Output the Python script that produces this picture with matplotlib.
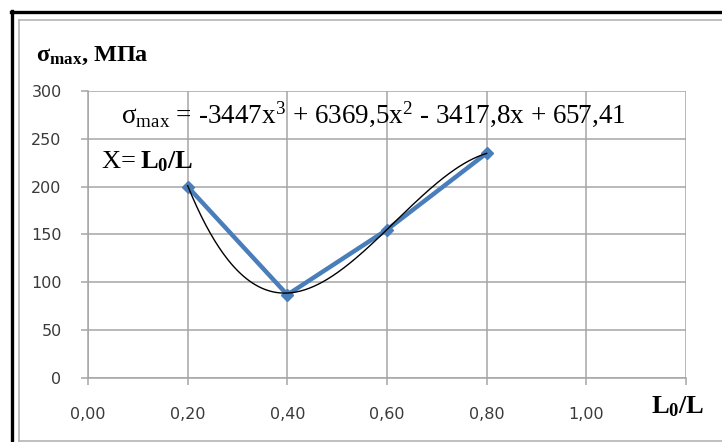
import numpy as np
import matplotlib
matplotlib.use("Agg")
import matplotlib.pyplot as plt
from matplotlib.lines import Line2D

# data
x_vals = [0.2, 0.4, 0.6, 0.8]
sigma_max = [200, 87, 155, 235]
# trendline coefficients as printed on the chart
trend_coefs = [-3447, 6369.5, -3417.8, 657.41]
x_ticks = [0.0, 0.2, 0.4, 0.6, 0.8, 1.0, 1.2]
x_tick_labels = ['0,00', '0,20', '0,40', '0,60', '0,80', '1,00', '']
y_ticks = [0, 50, 100, 150, 200, 250, 300]

plt.rcParams['mathtext.fontset'] = 'custom'
plt.rcParams['mathtext.rm'] = 'Liberation Serif'
plt.rcParams['mathtext.it'] = 'Liberation Serif:italic'
plt.rcParams['mathtext.bf'] = 'Liberation Serif:bold'

W, H = 722, 442
fig = plt.figure(figsize=(W / 100, H / 100), dpi=100)

# frame lines around the chart (figure pixel coords)
def fline(xs, ys, color, lw):
    fig.add_artist(Line2D([x / W for x in xs], [1 - y / H for y in ys],
                          color=color, lw=lw, transform=fig.transFigure))

fline([11.5, 11.5], [11, 442], 'black', 2.4)
fline([10.5, 722], [11.5, 11.5], 'black', 2.4)
fline([19, 19], [20, 440.5], '#b4b4b4', 1.2)
fline([18.5, 722], [20, 20], '#b4b4b4', 1.2)
fline([18.5, 722], [440.5, 440.5], '#b4b4b4', 1.2)

ax = fig.add_axes([88 / W, 1 - 378 / H, (686 - 88) / W, (378 - 91) / H])
ax.set_xlim(0, 1.2)
ax.set_ylim(0, 300)
ax.set_xticks(x_ticks)
ax.set_xticklabels(x_tick_labels)
ax.set_yticks(y_ticks)
ax.grid(True, color='#a6a6a6', lw=1.1)
ax.set_axisbelow(True)
for s in ['top', 'right']:
    ax.spines[s].set_visible(False)
for s in ['left', 'bottom']:
    ax.spines[s].set_color('#a6a6a6')
    ax.spines[s].set_linewidth(1.1)
ax.tick_params(direction='out', length=5, width=1.1, color='#a6a6a6',
               labelsize=11.5, labelcolor='#3a3a3a')
ax.tick_params(axis='y', pad=14)
ax.tick_params(axis='x', pad=16)

# data line and polynomial trendline
ax.plot(x_vals, sigma_max, color='#4a7ebb', lw=3.2, marker='D', ms=6,
        solid_joinstyle='round', zorder=3)
xs = np.linspace(x_vals[0], x_vals[-1], 200)
ax.plot(xs, np.polyval(trend_coefs, xs), color='black', lw=1.0, zorder=4)

# texts
fig.text(36 / W, 1 - 61 / H, r'$\mathbf{\sigma_{max}}$, МПа', family='Liberation Serif',
         weight='bold', fontsize=17.5, ha='left', va='baseline')
fig.text(121 / W, 1 - 123 / H,
         r'$\mathrm{\sigma_{max}}$ = -3447x$^3$ + 6369,5x$^2$ - 3417,8x + 657,41',
         family='Liberation Serif', fontsize=19.5, ha='left', va='baseline')
fig.text(102 / W, 1 - 168 / H, 'X= ', family='Liberation Serif', fontsize=19,
         ha='left', va='baseline')
fig.text(140 / W, 1 - 168 / H, r'L$_\mathbf{0}$/L', family='Liberation Serif',
         weight='bold', fontsize=19, ha='left', va='baseline')
fig.text(651 / W, 1 - 413 / H, r'L$_\mathbf{0}$/L', family='Liberation Serif',
         weight='bold', fontsize=19, ha='left', va='baseline')

fig.savefig('out.png', dpi=100)
